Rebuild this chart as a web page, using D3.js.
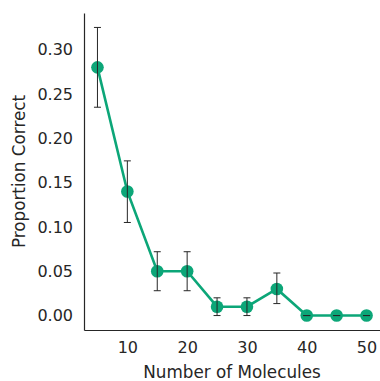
<!DOCTYPE html>
<html>
<head>
<meta charset="utf-8">
<script src="https://cdn.jsdelivr.net/npm/d3@7"></script>
<style>
  body { margin: 0; background: #fff; }
  text { font-family: "DejaVu Sans", sans-serif; fill: #262626; }
</style>
</head>
<body>
<div id="chart"></div>
<script>
// data
const molecules = [5, 10, 15, 20, 25, 30, 35, 40, 45, 50];
const proportion = [0.28, 0.14, 0.05, 0.05, 0.01, 0.01, 0.03, 0, 0, 0];
const errLow = [0.235, 0.105, 0.028, 0.028, 0.0, 0.0, 0.0135, 0, 0, 0];
const errHigh = [0.325, 0.1745, 0.072, 0.072, 0.02, 0.02, 0.048, 0, 0, 0];
const xTicks = [10, 20, 30, 40, 50];
const yTicks = [0, 0.05, 0.10, 0.15, 0.20, 0.25, 0.30];

const W = 380, H = 381;
const margin = {top: 13, right: 0, bottom: 51, left: 84};

const svg = d3.select("#chart").append("svg")
  .attr("width", W)
  .attr("height", H);

const x = d3.scaleLinear().domain([2.75, 52.25]).range([margin.left, W - margin.right]);
const y = d3.scaleLinear().domain([-0.0163, 0.3413]).range([H - margin.bottom, margin.top]);

// axes (seaborn style: no tick marks, only left and bottom spines)
const xAxis = svg.append("g")
  .attr("transform", `translate(0,${H - margin.bottom})`)
  .call(d3.axisBottom(x).tickValues(xTicks).tickSize(0).tickPadding(12).tickFormat(d3.format("d")));
xAxis.select(".domain").attr("stroke", "#262626").attr("stroke-width", 1.2);
xAxis.selectAll("text").attr("font-size", 16).attr("fill", "#262626");

const yAxis = svg.append("g")
  .attr("transform", `translate(${margin.left},0)`)
  .call(d3.axisLeft(y).tickValues(yTicks).tickSize(0).tickPadding(11).tickFormat(d3.format(".2f")));
yAxis.select(".domain").attr("stroke", "#262626").attr("stroke-width", 1.2);
yAxis.selectAll("text").attr("font-size", 16).attr("fill", "#262626");

svg.append("text")
  .attr("x", 232)
  .attr("y", 378)
  .attr("text-anchor", "middle")
  .attr("font-size", 16.8)
  .text("Number of Molecules");

svg.append("text")
  .attr("transform", `translate(25,${(margin.top + H - margin.bottom) / 2}) rotate(-90)`)
  .attr("text-anchor", "middle")
  .attr("font-size", 16.8)
  .text("Proportion Correct");

const green = "#0ca678";
const pts = molecules.map((m, i) => ({m, p: proportion[i], lo: errLow[i], hi: errHigh[i]}));

// line
svg.append("path")
  .datum(pts)
  .attr("fill", "none")
  .attr("stroke", green)
  .attr("stroke-width", 2.6)
  .attr("d", d3.line().x(d => x(d.m)).y(d => y(d.p)));

// markers
svg.selectAll("circle")
  .data(pts)
  .join("circle")
  .attr("cx", d => x(d.m))
  .attr("cy", d => y(d.p))
  .attr("r", 6.3)
  .attr("fill", green);

// error bars drawn on top
const eb = svg.append("g").attr("stroke", "#262626").attr("stroke-width", 1);
pts.forEach(d => {
  eb.append("line").attr("x1", x(d.m)).attr("x2", x(d.m)).attr("y1", y(d.lo)).attr("y2", y(d.hi));
  eb.append("line").attr("x1", x(d.m) - 3.5).attr("x2", x(d.m) + 3.5).attr("y1", y(d.lo)).attr("y2", y(d.lo));
  eb.append("line").attr("x1", x(d.m) - 3.5).attr("x2", x(d.m) + 3.5).attr("y1", y(d.hi)).attr("y2", y(d.hi));
});
</script>
</body>
</html>
